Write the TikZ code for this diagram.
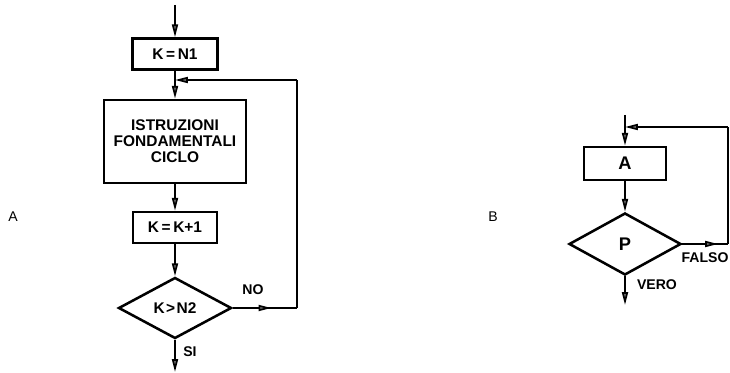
\documentclass[tikz,border=0pt]{standalone}
\usepackage{fontspec}
\setmainfont{Liberation Sans}
\usetikzlibrary{arrows.meta,shapes.geometric,decorations.markings}
\tikzset{
	tip/.tip={Triangle[length=3.2mm,width=1.5mm,fill=black!55]},
	flow/.style={line width=1.2pt,-tip},
	line/.style={line width=1.2pt},
	midarr/.style={line width=1.2pt,postaction={decorate},
		decoration={markings,mark=at position #1 with {\arrow{tip}}}},
	box/.style={rectangle,draw,line width=1.8pt,font=\fontsize{11}{11.5}\selectfont\bfseries,align=center,inner sep=1pt},
	test/.style={diamond,draw,line width=1.8pt,aspect=2,font=\fontsize{11}{11.5}\selectfont\bfseries,inner sep=1pt},
	lbl/.style={font=\fontsize{10}{11}\selectfont\bfseries}
}
\begin{document}
\begin{tikzpicture}[x=0.025cm, y=-0.025cm]
			\useasboundingbox (0,0) rectangle (730,373);
			\begin{scope}
				\node[box, minimum width=2.125cm, minimum height=0.775cm] (n1) at (175,54) {K\,=\,N1};
				\node[box, minimum width=3.55cm, minimum height=2.075cm] (body) at (175,141.5) {ISTRUZIONI\\FONDAMENTALI\\CICLO};
				\node[box, minimum width=2.1cm, minimum height=0.775cm] (incr) at (175,227.5) {K\,=\,K+1};
				\node[test, minimum width=2.825cm, minimum height=1.525cm] (cmp) at (175,308) {K\kern1pt>\kern1pt N2};
				\node[box, minimum width=2.05cm, minimum height=0.825cm, font=\fontsize{13}{14}\selectfont\bfseries] (act) at (625,163.5) {A};
				\node[test, minimum width=2.8cm, minimum height=1.55cm, font=\fontsize{13}{14}\selectfont\bfseries] (cond) at (625,244) {P};
			\end{scope}
			\coordinate (ina) at (175,5);
			\coordinate (ja) at (175,80);
			\coordinate (ra) at (297,80);
			\coordinate (rb) at (297,308);
			\coordinate (outa) at (175,372);
			\coordinate (inb) at (625,115);
			\coordinate (jb) at (625,127);
			\coordinate (sa) at (728,127);
			\coordinate (sb) at (728,244);
			\coordinate (outb) at (625,305);
			\node[font=\fontsize{10}{11}\selectfont] (la) at (13,217) {A};
			\node[font=\fontsize{10}{11}\selectfont] (lb) at (493,217) {B};
			\begin{scope}
				\draw[flow] (ina) -- (n1);
				\draw[flow] (n1) -- (body);
				\draw[flow] (body) -- (incr);
				\draw[flow] (incr) -- (cmp);
				\draw[midarr=0.6] (cmp.east) -- (rb);
				\draw[line] (rb) -- (ra);
				\draw[flow] (ra) -- (ja);
				\draw[flow] (cmp.south) -- (outa);
				\node[lbl] (no) at (253,290) {NO};
				\node[lbl] (si) at (190,352) {SI};
				\draw[flow] (inb) -- (act);
				\draw[flow] (act) -- (cond);
				\draw[midarr=0.78] (cond.east) -- (sb);
				\draw[line] (sb) -- (sa);
				\draw[flow] (sa) -- (jb);
				\draw[flow] (cond.south) -- (outb);
				\node[lbl] (falso) at (705,258) {FALSO};
				\node[lbl] (vero) at (657,285) {VERO};
			\end{scope}
		\end{tikzpicture}
\end{document}
